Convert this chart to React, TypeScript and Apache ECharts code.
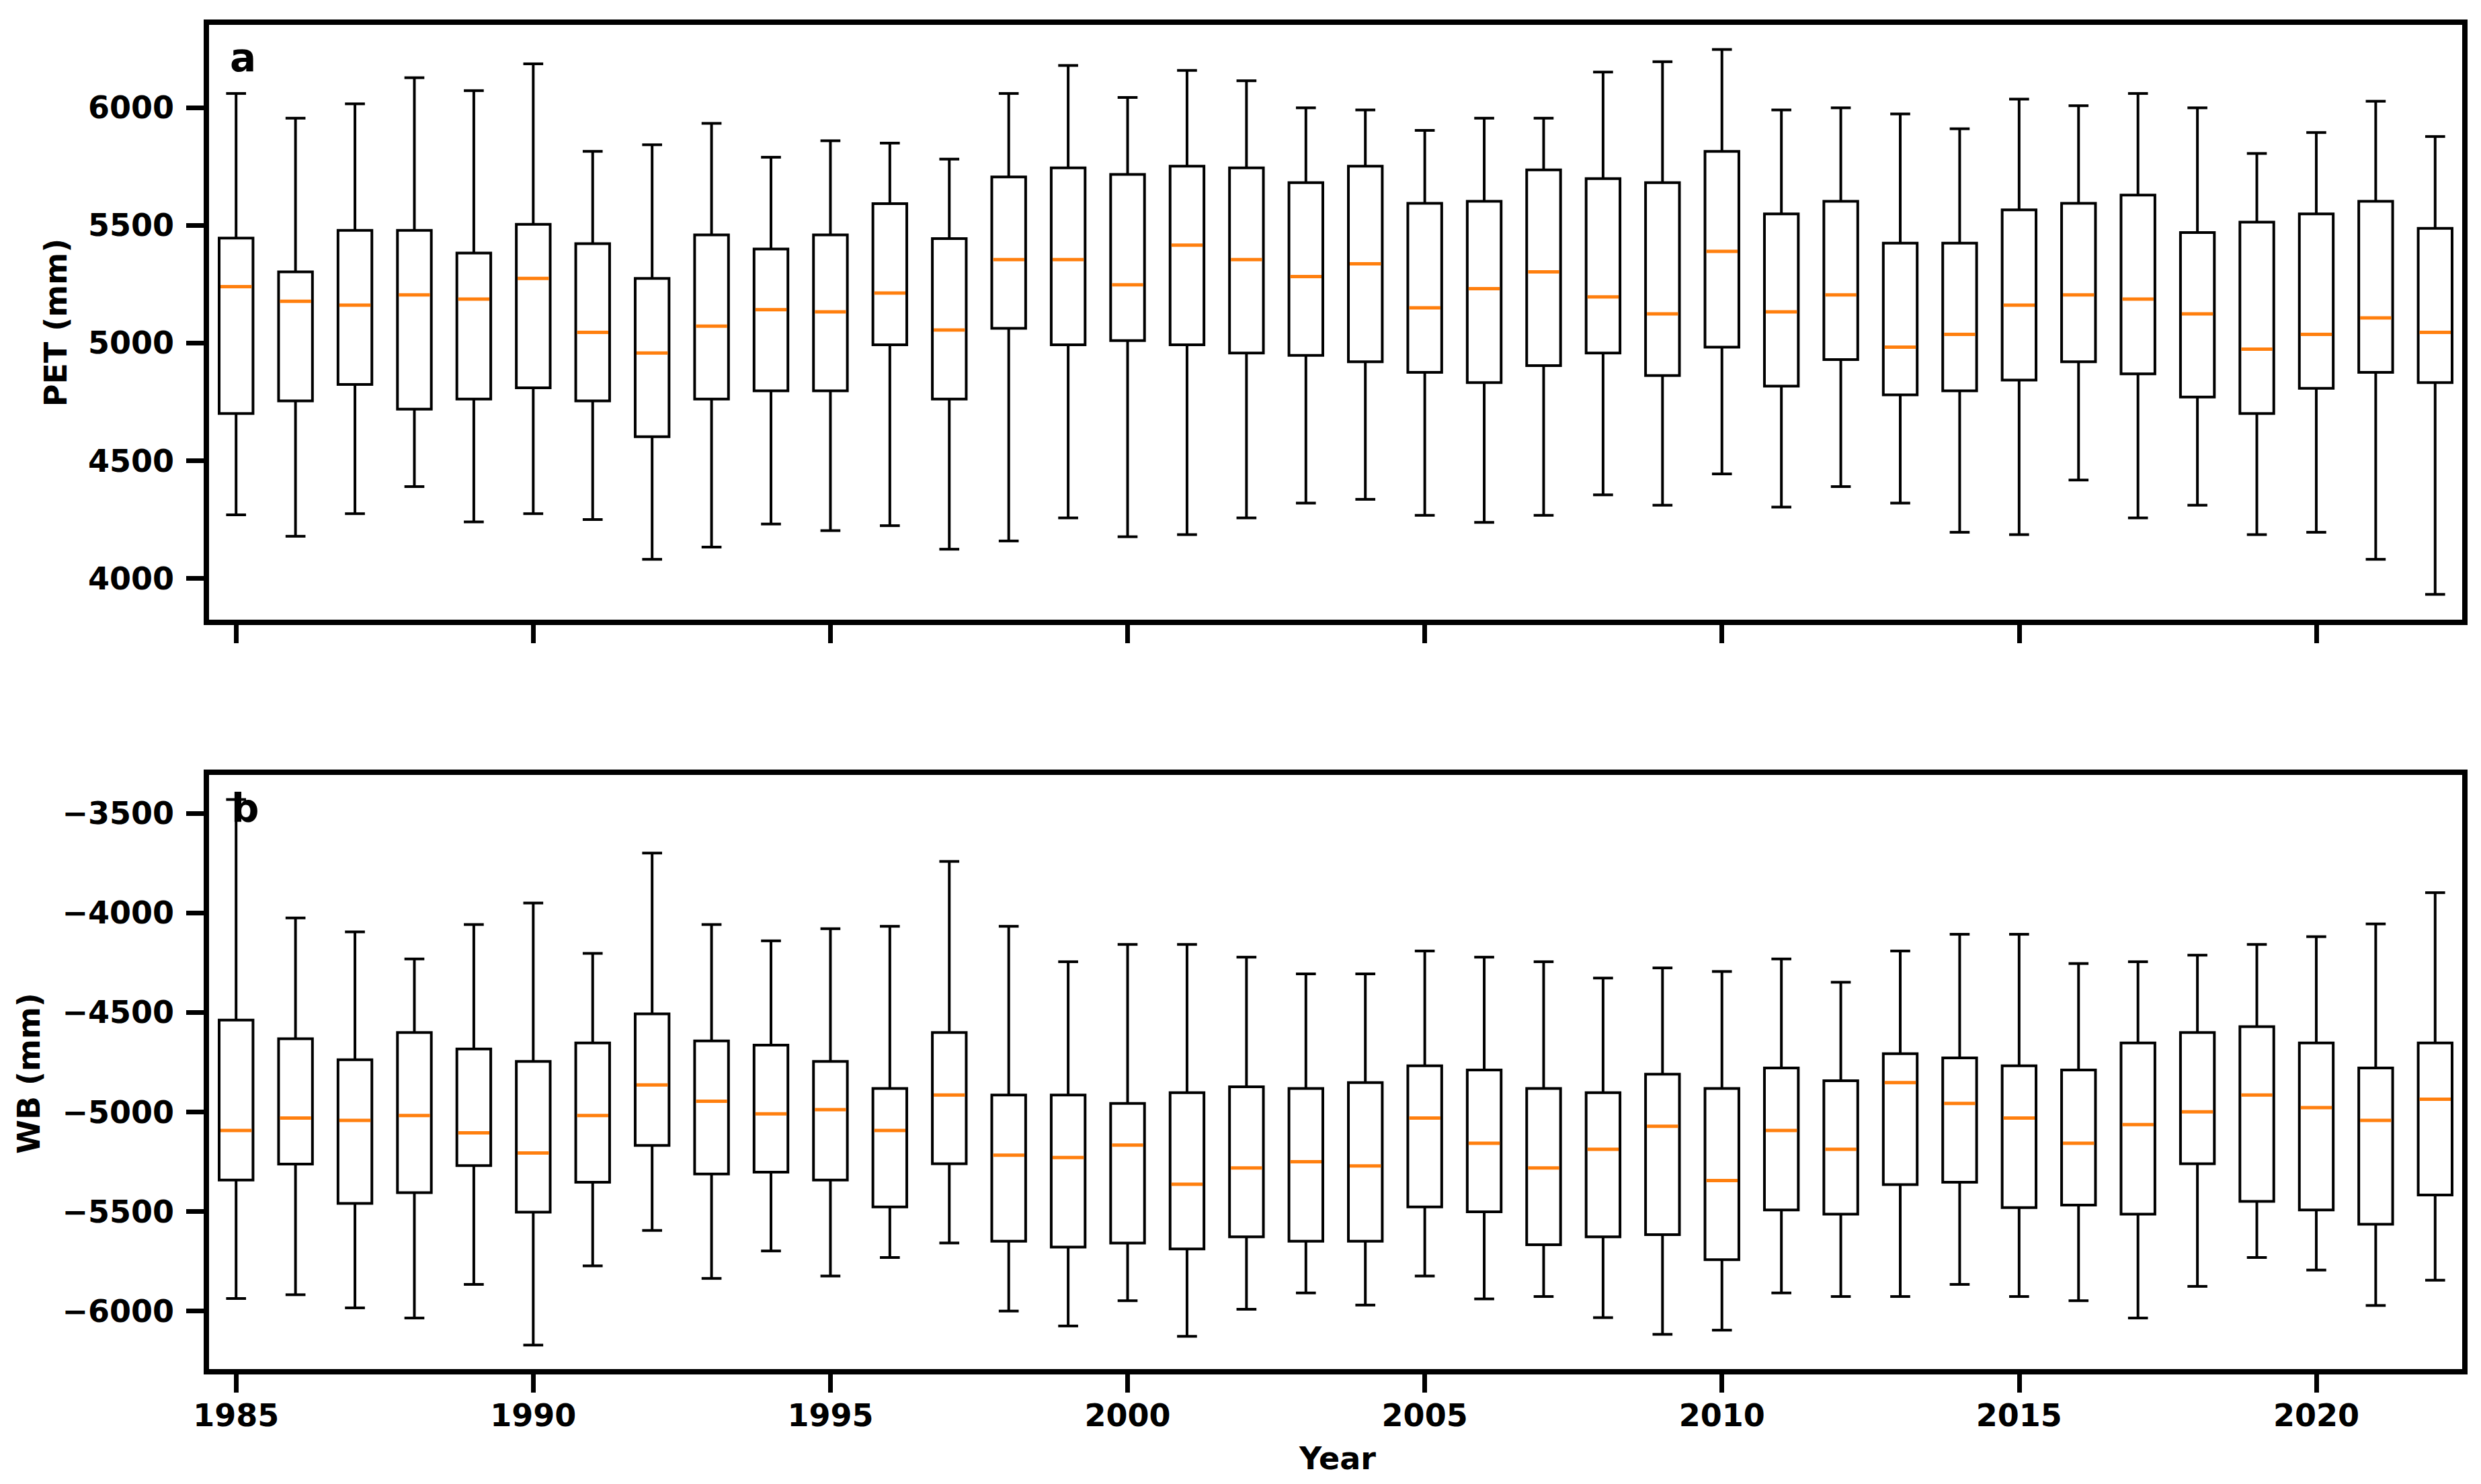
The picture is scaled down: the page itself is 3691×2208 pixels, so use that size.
import React, { useEffect, useRef } from "react";
import * as echarts from "echarts";

// ---------------- DATA ----------------
const years = [
  1985, 1986, 1987, 1988, 1989, 1990, 1991, 1992, 1993, 1994, 1995, 1996, 1997,
  1998, 1999, 2000, 2001, 2002, 2003, 2004, 2005, 2006, 2007, 2008, 2009, 2010,
  2011, 2012, 2013, 2014, 2015, 2016, 2017, 2018, 2019, 2020, 2021, 2022,
];

// Panel a: PET (mm)
const petMin = [
  4270, 4179, 4275, 4390, 4240, 4275, 4250, 4081, 4133, 4231, 4203, 4224, 4124,
  4159, 4257, 4177, 4186, 4257, 4320, 4336, 4268, 4238, 4268, 4355, 4311, 4444,
  4303, 4390, 4320, 4196, 4186, 4418, 4257, 4311, 4186, 4196, 4081, 3932,
];
const petQ1 = [
  4701, 4754, 4824, 4719, 4762, 4810, 4754, 4602, 4762, 4797, 4797, 4993, 4762,
  5063, 4993, 5011, 4993, 4958, 4948, 4921, 4876, 4832, 4904, 4958, 4862, 4983,
  4817, 4930, 4780, 4797, 4843, 4921, 4869, 4771, 4701, 4808, 4876, 4832,
];
const petMed = [
  5240, 5178, 5161, 5205, 5187, 5275, 5046, 4958, 5072, 5142, 5133, 5213, 5056,
  5355, 5355, 5248, 5416, 5355, 5283, 5337, 5150, 5231, 5303, 5196, 5124, 5390,
  5133, 5205, 4983, 5037, 5161, 5205, 5187, 5124, 4974, 5037, 5107, 5046,
];
const petQ3 = [
  5446, 5303, 5479, 5479, 5383, 5505, 5423, 5275, 5460, 5400, 5460, 5593, 5444,
  5706, 5745, 5717, 5752, 5745, 5682, 5752, 5594, 5603, 5736, 5699, 5682, 5815,
  5549, 5603, 5425, 5425, 5566, 5594, 5629, 5470, 5514, 5549, 5603, 5488,
];
const petMax = [
  6061, 5956, 6017, 6128, 6073, 6187, 5815, 5843, 5934, 5790, 5860, 5850, 5782,
  6061, 6180, 6044, 6159, 6115, 6000, 5991, 5904, 5956, 5956, 6152, 6196, 6248,
  5991, 6000, 5974, 5911, 6037, 6009, 6061, 6000, 5806, 5895, 6028, 5878,
];

// Panel b: WB (mm)
const wbMin = [
  -5937, -5918, -5984, -6035, -5866, -6171, -5773, -5595, -5836, -5698, -5824,
  -5731, -5658, -6000, -6075, -5948, -6127, -5991, -5909, -5970, -5824, -5939,
  -5927, -6033, -6117, -6096, -5909, -5927, -5927, -5866, -5927, -5948, -6035,
  -5876, -5731, -5794, -5972, -5845,
];
const wbQ1 = [
  -5342, -5262, -5459, -5405, -5269, -5503, -5353, -5168, -5311, -5302, -5342,
  -5477, -5260, -5649, -5679, -5658, -5688, -5627, -5649, -5649, -5477, -5501,
  -5667, -5627, -5616, -5742, -5492, -5513, -5365, -5353, -5480, -5468, -5513,
  -5260, -5449, -5492, -5564, -5417,
];
const wbMed = [
  -5093, -5030, -5042, -5018, -5105, -5206, -5018, -4864, -4946, -5009, -4988,
  -5093, -4915, -5217, -5229, -5166, -5363, -5281, -5250, -5271, -5030, -5157,
  -5281, -5187, -5072, -5344, -5093, -5187, -4852, -4957, -5030, -5157, -5063,
  -4999, -4915, -4978, -5042, -4936,
];
const wbQ3 = [
  -4538, -4632, -4737, -4601, -4683, -4746, -4653, -4507, -4643, -4664, -4746,
  -4882, -4601, -4915, -4915, -4957, -4903, -4873, -4882, -4852, -4768, -4789,
  -4882, -4903, -4810, -4882, -4779, -4843, -4707, -4728, -4768, -4789, -4653,
  -4601, -4571, -4653, -4779, -4653,
];
const wbMax = [
  -3430, -4025, -4095, -4231, -4058, -3950, -4203, -3699, -4058, -4140, -4079,
  -4067, -3741, -4067, -4245, -4158, -4158, -4222, -4306, -4306, -4191, -4222,
  -4245, -4327, -4276, -4294, -4231, -4348, -4191, -4107, -4107, -4254, -4245,
  -4212, -4158, -4119, -4055, -3898,
];

const xTickYears = [1985, 1990, 1995, 2000, 2005, 2010, 2015, 2020];
const petTicks = [4000, 4500, 5000, 5500, 6000];
const wbTicks = [-6000, -5500, -5000, -4500, -4000, -3500];

// ---------------- STYLE ----------------
const FONT = "DejaVu Sans";
const TICK_FONT = 46;
const BOX_W = 0.57;
const CAP_W = 0.29;
const LINE_W = 4;

function buildRows(mn: number[], q1: number[], md: number[], q3: number[], mx: number[]) {
  return years.map((y, i) => [y, mn[i], q1[i], md[i], q3[i], mx[i]]);
}

const renderBox = (_params: any, api: any) => {
  const x = api.value(0);
  const pMin = api.coord([x, api.value(1)]);
  const pQ1 = api.coord([x, api.value(2)]);
  const pMed = api.coord([x, api.value(3)]);
  const pQ3 = api.coord([x, api.value(4)]);
  const pMax = api.coord([x, api.value(5)]);
  const unit = api.size([1, 0])[0];
  const bw = unit * BOX_W;
  const cw = unit * CAP_W;
  const cx = pMed[0];
  const black = { stroke: "#000", lineWidth: LINE_W, fill: null, lineCap: "square" };
  return {
    type: "group",
    children: [
      { type: "line", shape: { x1: cx, y1: pMin[1], x2: cx, y2: pQ1[1] }, style: { ...black, lineCap: "butt" } },
      { type: "line", shape: { x1: cx, y1: pQ3[1], x2: cx, y2: pMax[1] }, style: { ...black, lineCap: "butt" } },
      { type: "line", shape: { x1: cx - cw / 2, y1: pMin[1], x2: cx + cw / 2, y2: pMin[1] }, style: black },
      { type: "line", shape: { x1: cx - cw / 2, y1: pMax[1], x2: cx + cw / 2, y2: pMax[1] }, style: black },
      {
        type: "rect",
        shape: { x: cx - bw / 2, y: pQ3[1], width: bw, height: pQ1[1] - pQ3[1] },
        style: { stroke: "#000", lineWidth: LINE_W, fill: "none" },
      },
      {
        type: "line",
        shape: { x1: cx - bw / 2 + 2, y1: pMed[1], x2: cx + bw / 2 - 2, y2: pMed[1] },
        style: { stroke: "#ff7f0e", lineWidth: 5, lineCap: "butt" },
      },
    ],
  };
};

const fmtNum = (v: number) => (v < 0 ? "\u2212" + String(Math.abs(v)) : String(v));

export default function App() {
  const ref = useRef<HTMLDivElement>(null);

  useEffect(() => {
    if (!ref.current) return;
    const chart = echarts.init(ref.current, null, { renderer: "svg" });

    const gridCommon = {
      show: true,
      borderColor: "#000",
      borderWidth: 8,
      backgroundColor: "transparent",
      containLabel: false,
    };

    const xAxisCommon = (gridIndex: number, showLabels: boolean) => ({
      type: "value",
      gridIndex,
      min: 1984.5,
      max: 2022.5,
      axisLine: { show: false },
      splitLine: { show: false },
      axisTick: {
        show: true,
        inside: false,
        length: 31,
        customValues: xTickYears,
        lineStyle: { color: "#000", width: 7 },
      },
      axisLabel: {
        show: showLabels,
        customValues: xTickYears,
        margin: 42,
        fontFamily: FONT,
        fontWeight: "bold",
        fontSize: TICK_FONT,
        color: "#000",
        formatter: (v: number) => String(v),
      },
    });

    const yAxisCommon = (gridIndex: number, min: number, max: number, ticks: number[]) => ({
      type: "value",
      gridIndex,
      min,
      max,
      axisLine: { show: false },
      splitLine: { show: false },
      axisTick: {
        show: true,
        inside: false,
        length: 30,
        customValues: ticks,
        lineStyle: { color: "#000", width: 7 },
      },
      axisLabel: {
        show: true,
        customValues: ticks,
        margin: 48,
        fontFamily: FONT,
        fontWeight: "bold",
        fontSize: TICK_FONT,
        color: "#000",
        formatter: (v: number) => fmtNum(v),
      },
    });

    const textEl = (text: string, x: number, y: number, size: number, rotation = 0, align = "center") => ({
      type: "text",
      x,
      y,
      rotation,
      z: 100,
      style: {
        text,
        fill: "#000",
        fontFamily: FONT,
        fontWeight: "bold",
        fontSize: size,
        align,
        verticalAlign: "middle",
      },
    });

    chart.setOption({
      animation: false,
      backgroundColor: "#fff",
      grid: [
        { ...gridCommon, left: 307, top: 33, width: 3360, height: 893 },
        { ...gridCommon, left: 307, top: 1149, width: 3360, height: 892 },
      ],
      xAxis: [xAxisCommon(0, false), xAxisCommon(1, true)],
      yAxis: [yAxisCommon(0, 3813, 6364, petTicks), yAxisCommon(1, -6305, -3293, wbTicks)],
      series: [
        {
          type: "custom",
          xAxisIndex: 0,
          yAxisIndex: 0,
          renderItem: renderBox,
          encode: { x: 0, y: [1, 2, 3, 4, 5] },
          data: buildRows(petMin, petQ1, petMed, petQ3, petMax),
          z: 5,
        },
        {
          type: "custom",
          xAxisIndex: 1,
          yAxisIndex: 1,
          renderItem: renderBox,
          encode: { x: 0, y: [1, 2, 3, 4, 5] },
          data: buildRows(wbMin, wbQ1, wbMed, wbQ3, wbMax),
          z: 5,
        },
      ],
      graphic: [
        textEl("PET (mm)", 83, 480, 46, Math.PI / 2),
        textEl("WB (mm)", 43, 1597, 46, Math.PI / 2),
        textEl("Year", 1990, 2170, 46),
        textEl("a", 342, 86, 58, 0, "left"),
        textEl("b", 344, 1203, 58, 0, "left"),
      ],
    });

    return () => chart.dispose();
  }, []);

  return (
    <div
      ref={ref}
      style={{ position: "fixed", left: 0, top: 0, width: 3691, height: 2208, background: "#fff" }}
    />
  );
}
